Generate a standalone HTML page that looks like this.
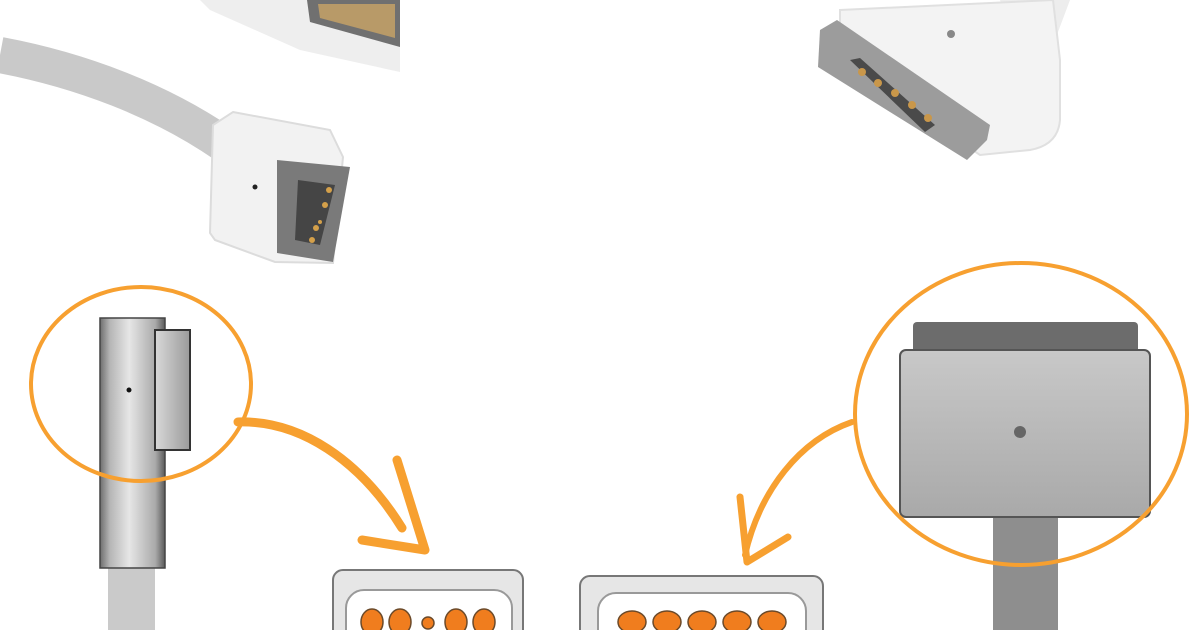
<!DOCTYPE html>
<html><head><meta charset="utf-8"><style>html,body{margin:0;padding:0;background:#fff}svg{display:block}</style></head>
<body>
<svg width="1200" height="630" viewBox="0 0 1200 630" xmlns="http://www.w3.org/2000/svg">
<defs>
<linearGradient id="mg" x1="0" x2="1" y1="0" y2="0">
<stop offset="0" stop-color="#6e6e6e"/><stop offset="0.15" stop-color="#b5b5b5"/><stop offset="0.45" stop-color="#e6e6e6"/><stop offset="0.85" stop-color="#aaa"/><stop offset="1" stop-color="#5a5a5a"/>
</linearGradient>
<linearGradient id="tab" x1="0" x2="1"><stop offset="0" stop-color="#d9d9d9"/><stop offset="1" stop-color="#9a9a9a"/></linearGradient>
<linearGradient id="m2" x1="0" x2="0" y1="0" y2="1"><stop offset="0" stop-color="#c8c8c8"/><stop offset="1" stop-color="#a9a9a9"/></linearGradient>
</defs>
<rect width="1200" height="630" fill="#fff"/>

<!-- top-left upper connector -->
<path d="M200,0 L400,0 L400,72 L300,50 L210,10 Z" fill="#eeeeee"/>
<path d="M307,0 L400,0 L400,47 L310,22 Z" fill="#707070"/>
<path d="M318,4 L395,4 L395,38 L320,18 Z" fill="#b89a68"/>

<!-- top-left lower cable + head -->
<path d="M0,55 C80,70 160,100 225,145" stroke="#c9c9c9" stroke-width="36" fill="none" stroke-linecap="butt"/>
<path d="M233,112 L330,130 L343,157 L333,263 L275,262 L215,240 L210,233 L213,125 Z" fill="#f2f2f2" stroke="#dcdcdc" stroke-width="2"/>
<path d="M277,160 L350,167 L333,262 L277,253 Z" fill="#7a7a7a"/>
<path d="M298,180 L335,185 L320,245 L295,240 Z" fill="#454545"/>
<g fill="#d4a04a"><circle cx="329" cy="190" r="3"/><circle cx="325" cy="205" r="3"/><circle cx="320" cy="222" r="2"/><circle cx="316" cy="228" r="3"/><circle cx="312" cy="240" r="3"/></g>
<circle cx="255" cy="187" r="2.5" fill="#222"/>

<!-- top-right connector -->
<path d="M1000,0 L1070,0 L1055,40 L1010,30 Z" fill="#ededed"/>
<path d="M840,10 L1053,0 L1060,60 L1060,120 Q1058,145 1030,150 L980,155 L840,60 Z" fill="#f3f3f3" stroke="#e0e0e0" stroke-width="2"/>
<path d="M820,30 L837,20 L990,125 L987,140 L967,160 L818,67 Z" fill="#9c9c9c"/>
<path d="M850,60 L860,58 L935,125 L925,132 Z" fill="#4a4a4a"/>
<g fill="#c9974a"><circle cx="862" cy="72" r="4"/><circle cx="878" cy="83" r="4"/><circle cx="895" cy="93" r="4"/><circle cx="912" cy="105" r="4"/><circle cx="928" cy="118" r="4"/></g>
<circle cx="951" cy="34" r="4" fill="#888"/>

<!-- left MagSafe 1 plug -->
<rect x="108" y="565" width="47" height="70" fill="#cacaca"/>
<rect x="100" y="318" width="65" height="250" fill="url(#mg)" stroke="#444" stroke-width="1.5"/>
<rect x="155" y="330" width="35" height="120" fill="url(#tab)" stroke="#333" stroke-width="2"/>
<circle cx="129" cy="390" r="2.5" fill="#111"/>
<ellipse cx="141" cy="384" rx="110" ry="97" fill="none" stroke="#f7a030" stroke-width="4"/>

<!-- left arrow -->
<path d="M238,422 C300,420 360,460 402,528" stroke="#f7a030" stroke-width="9" fill="none" stroke-linecap="round"/>
<path d="M397,460 L425,550 L362,540" stroke="#f7a030" stroke-width="9" fill="none" stroke-linecap="round" stroke-linejoin="round"/>

<!-- right MagSafe 2 plug -->
<rect x="993" y="515" width="65" height="120" fill="#8e8e8e"/>
<rect x="913" y="322" width="225" height="32" rx="4" fill="#6c6c6c"/>
<rect x="900" y="350" width="250" height="167" rx="6" fill="url(#m2)" stroke="#555" stroke-width="2"/>
<circle cx="1020" cy="432" r="6" fill="#666"/>
<ellipse cx="1021" cy="414" rx="166" ry="151" fill="none" stroke="#f7a030" stroke-width="4"/>

<!-- right arrow -->
<path d="M852,422 C800,440 760,490 745,555" stroke="#f7a030" stroke-width="6" fill="none" stroke-linecap="round"/>
<path d="M740,497 L747,562 L788,537" stroke="#f7a030" stroke-width="7" fill="none" stroke-linecap="round" stroke-linejoin="round"/>

<!-- bottom ports -->
<rect x="333" y="570" width="190" height="80" rx="10" fill="#e6e6e6" stroke="#777" stroke-width="2"/>
<rect x="346" y="590" width="166" height="60" rx="18" fill="#fff" stroke="#999" stroke-width="2"/>
<g fill="#f07d1e" stroke="#6b4a2a" stroke-width="1.5">
<ellipse cx="372" cy="622" rx="11" ry="13"/><ellipse cx="400" cy="622" rx="11" ry="13"/><circle cx="428" cy="623" r="6"/><ellipse cx="456" cy="622" rx="11" ry="13"/><ellipse cx="484" cy="622" rx="11" ry="13"/>
</g>
<rect x="580" y="576" width="243" height="80" rx="10" fill="#e6e6e6" stroke="#777" stroke-width="2"/>
<rect x="598" y="593" width="208" height="60" rx="18" fill="#fff" stroke="#999" stroke-width="2"/>
<g fill="#f07d1e" stroke="#6b4a2a" stroke-width="1.5">
<ellipse cx="632" cy="622" rx="14" ry="11"/><ellipse cx="667" cy="622" rx="14" ry="11"/><ellipse cx="702" cy="622" rx="14" ry="11"/><ellipse cx="737" cy="622" rx="14" ry="11"/><ellipse cx="772" cy="622" rx="14" ry="11"/>
</g>
</svg>
</body></html>
